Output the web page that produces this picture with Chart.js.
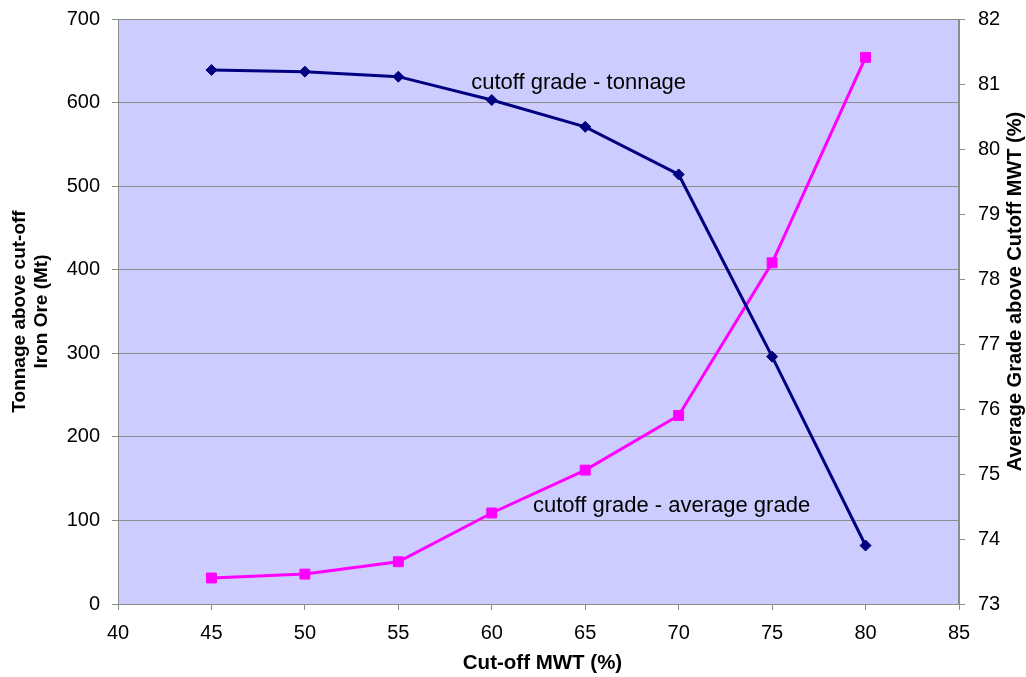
<!DOCTYPE html>
<html><head><meta charset="utf-8">
<script src="https://cdn.jsdelivr.net/npm/chart.js@4.4.0/dist/chart.umd.min.js"></script>
<style>html,body{margin:0;padding:0;background:#fff;overflow:hidden}#wrap{width:1026px;height:677px}</style>
</head><body><div id="wrap"><canvas id="c" width="1026" height="677"></canvas></div>
<script>
const cutoff = [45, 50, 55, 60, 65, 70, 75, 80];
const tonnage = [639, 637, 631, 603, 571, 514, 296, 70];
const avgGrade = [73.40, 73.46, 73.65, 74.40, 75.06, 75.90, 78.25, 81.41];
const xTitle = 'Cut-off MWT (%)';
const leftTitle = ['Tonnage above cut-off', 'Iron Ore (Mt)'];
const rightTitle = 'Average Grade above Cutoff MWT (%)';
const labelTonnage = { text: 'cutoff grade - tonnage', x: 58.9, y: 623 };
const labelGrade = { text: 'cutoff grade - average grade', x: 62.2, y: 117 };

const FONT = '"Liberation Sans", Arial, sans-serif';
const GRID = '#8c8c8c';

function fixPad(s) { s.paddingTop = 0; s.paddingBottom = 0; s.paddingLeft = 0; s.paddingRight = 0; }

const decor = {
  id: 'decor',
  beforeDraw(chart) {
    const { ctx, chartArea: a } = chart;
    ctx.save();
    ctx.fillStyle = '#CCCCFF';
    ctx.fillRect(a.left, a.top, a.right - a.left, a.bottom - a.top);
    ctx.restore();
  },
  afterDraw(chart) {
    const { ctx, chartArea: a, scales } = chart;
    ctx.save();
    ctx.strokeStyle = GRID;
    ctx.lineWidth = 1;
    ctx.strokeRect(a.left + 0.5, a.top + 0.5, a.right - a.left - 1, a.bottom - a.top);
    ctx.fillStyle = '#000';
    // annotations
    ctx.font = '22px ' + FONT;
    ctx.textAlign = 'left';
    ctx.textBaseline = 'middle';
    ctx.fillText(labelTonnage.text, scales.x.getPixelForValue(labelTonnage.x), scales.y.getPixelForValue(labelTonnage.y));
    ctx.fillText(labelGrade.text, scales.x.getPixelForValue(labelGrade.x), scales.y.getPixelForValue(labelGrade.y));
    // axis titles
    ctx.textAlign = 'center';
    const cy = (a.top + a.bottom) / 2;
    ctx.font = 'bold 20.5px ' + FONT;
    ctx.fillText(xTitle, (a.left + a.right) / 2 + 4, 663);
    ctx.font = 'bold 19px ' + FONT;
    ctx.save();
    ctx.translate(20, cy);
    ctx.rotate(-Math.PI / 2);
    ctx.fillText(leftTitle[0], 0, 0);
    ctx.fillText(leftTitle[1], 0, 22);
    ctx.restore();
    ctx.font = 'bold 20px ' + FONT;
    ctx.save();
    ctx.translate(1015, cy - 20);
    ctx.rotate(-Math.PI / 2);
    ctx.fillText(rightTitle, 0, 0);
    ctx.restore();
    ctx.restore();
  }
};

new Chart(document.getElementById('c'), {
  type: 'scatter',
  data: {
    datasets: [
      {
        label: 'cutoff grade - tonnage',
        data: cutoff.map((x, i) => ({ x, y: tonnage[i] })),
        yAxisID: 'y',
        showLine: true,
        borderColor: '#000080',
        backgroundColor: '#000080',
        borderWidth: 3,
        pointStyle: 'rectRot',
        pointRadius: 5.5,
        pointBorderWidth: 1,
        tension: 0
      },
      {
        label: 'cutoff grade - average grade',
        data: cutoff.map((x, i) => ({ x, y: avgGrade[i] })),
        yAxisID: 'y2',
        showLine: true,
        borderColor: '#FF00FF',
        backgroundColor: '#FF00FF',
        borderWidth: 3,
        pointStyle: 'rect',
        pointRadius: 7,
        pointBorderWidth: 1,
        tension: 0
      }
    ]
  },
  options: {
    responsive: false,
    animation: false,
    devicePixelRatio: 1,
    layout: { padding: { top: 19, left: 0, right: 0, bottom: 0 } },
    plugins: { legend: { display: false }, tooltip: { enabled: false } },
    scales: {
      x: {
        type: 'linear', min: 40, max: 85,
        ticks: { stepSize: 5, color: '#000', font: { family: FONT, size: 20 }, padding: 11, maxRotation: 0 },
        grid: { drawOnChartArea: false, color: GRID, tickLength: 6 },
        border: { color: GRID },
        afterFit(s) { s.height = 73; fixPad(s); }
      },
      y: {
        type: 'linear', position: 'left', min: 0, max: 700,
        ticks: { stepSize: 100, color: '#000', font: { family: FONT, size: 20 }, padding: 12 },
        grid: { color: GRID, tickLength: 6 },
        border: { color: GRID },
        afterFit(s) { s.width = 118; fixPad(s); }
      },
      y2: {
        type: 'linear', position: 'right', min: 73, max: 82,
        ticks: { stepSize: 1, color: '#000', font: { family: FONT, size: 20 }, padding: 13 },
        grid: { drawOnChartArea: false, color: GRID, tickLength: 6 },
        border: { color: GRID },
        afterFit(s) { s.width = 67; fixPad(s); }
      }
    }
  },
  plugins: [decor]
});
</script>
</body></html>
